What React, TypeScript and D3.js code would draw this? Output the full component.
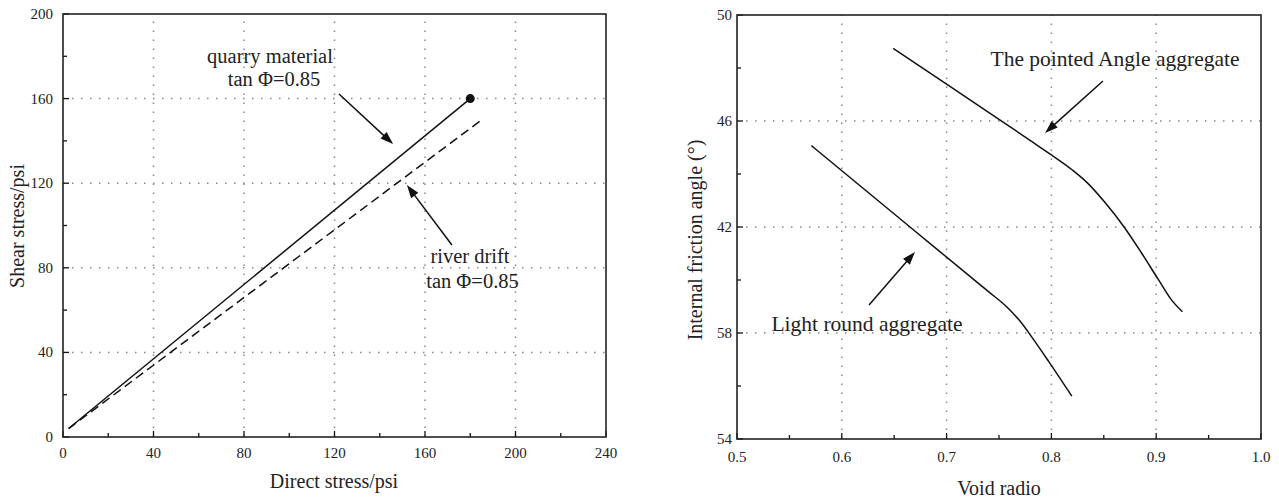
import React from "react";
import * as d3 from "d3";

// ---------- Left chart data ----------
const leftXTicks = [0, 40, 80, 120, 160, 200, 240];
const leftXMinor = [20, 60, 100, 140, 180, 220];
const leftYTicks = [0, 40, 80, 120, 160, 200];
const leftYMinor = [20, 60, 100, 140, 180];
const quarryLine = [
  { x: 2.5, y: 4 },
  { x: 180, y: 160 },
];
const riverLine = [
  { x: 2.5, y: 4 },
  { x: 185.6, y: 150.4 },
];
const leftArrows = [
  { x1: 122.0, y1: 162.2, x2: 145.9, y2: 138.5 },
  { x1: 171.9, y1: 90.8, x2: 152.0, y2: 119.1 },
];
const leftTexts = [
  { x: 91.5, y: 176.8, t: "quarry material" },
  { x: 93.3, y: 166.0, t: "tan Φ=0.85" },
  { x: 179.9, y: 82.3, t: "river drift" },
  { x: 181.0, y: 70.4, t: "tan Φ=0.85" },
];

// ---------- Right chart data ----------
const rightXTicks = [0.5, 0.6, 0.7, 0.8, 0.9, 1.0];
const rightXLabels = ["0.5", "0.6", "0.7", "0.8", "0.9", "1.0"];
const rightXMinor = [0.55, 0.65, 0.75, 0.85, 0.95];
const rightYTicks = [34, 38, 42, 46, 50];
const rightYLabels = ["54", "58", "42", "46", "50"];
const rightYMinor = [36, 40, 44, 48];
const pointedX = [0.649, 0.7, 0.75, 0.78, 0.8, 0.82, 0.836, 0.851, 0.869, 0.886, 0.902, 0.914, 0.925];
const pointedY = [48.74, 47.39, 46.06, 45.26, 44.72, 44.15, 43.6, 42.93, 42.02, 41.02, 40.02, 39.28, 38.8];
const roundX = [0.571, 0.62, 0.67, 0.72, 0.74, 0.757, 0.77, 0.783, 0.797, 0.8195];
const roundY = [45.07, 43.47, 41.84, 40.21, 39.56, 39.0, 38.45, 37.75, 36.95, 35.62];
const rightArrows = [
  { x1: 0.8492, y1: 47.51, x2: 0.7939, y2: 45.55 },
  { x1: 0.626, y1: 39.06, x2: 0.6698, y2: 41.06 },
];
const rightTexts = [
  { x: 0.8607, y: 48.08, t: "The pointed Angle aggregate" },
  { x: 0.624, y: 38.08, t: "Light round aggregate" },
];

const FONT = "'Liberation Serif', 'Times New Roman', serif";

function Arrow({ x1, y1, x2, y2 }: { x1: number; y1: number; x2: number; y2: number }) {
  const dx = x2 - x1;
  const dy = y2 - y1;
  const len = Math.sqrt(dx * dx + dy * dy);
  const ux = dx / len;
  const uy = dy / len;
  const hl = 13;
  const hw = 4.5;
  const bx = x2 - ux * hl;
  const by = y2 - uy * hl;
  const px = -uy;
  const py = ux;
  return (
    <g>
      <line x1={x1} y1={y1} x2={bx + ux * 2} y2={by + uy * 2} stroke="#111" strokeWidth={1.5} />
      <polygon
        points={`${x2},${y2} ${bx + px * hw},${by + py * hw} ${bx - px * hw},${by - py * hw}`}
        fill="#111"
      />
    </g>
  );
}

function Frame({
  x,
  y,
  xTicks,
  xLabels,
  xMinor,
  yTicks,
  yLabels,
  yMinor,
  yLabelGap,
  xLabelBase,
}: any) {
  const [x0, x1] = x.range();
  const [y0, y1] = y.range();
  const xd = x.domain();
  const yd = y.domain();
  return (
    <g>
      {xTicks
        .filter((t: number) => t > xd[0] && t < xd[1])
        .map((t: number, i: number) => (
          <line key={"gx" + i} x1={x(t)} x2={x(t)} y1={y0} y2={y1} stroke="#888" strokeWidth={1.5} strokeDasharray="1.5,7.5" />
        ))}
      {yTicks
        .filter((t: number) => t > yd[0] && t < yd[1])
        .map((t: number, i: number) => (
          <line key={"gy" + i} y1={y(t)} y2={y(t)} x1={x0} x2={x1} stroke="#888" strokeWidth={1.5} strokeDasharray="1.5,7.5" />
        ))}
      {xTicks.map((t: number, i: number) => (
        <line key={"tx" + i} x1={x(t)} x2={x(t)} y1={y0} y2={y0 - 6} stroke="#111" strokeWidth={1.3} />
      ))}
      {xMinor.map((t: number, i: number) => (
        <line key={"mx" + i} x1={x(t)} x2={x(t)} y1={y0} y2={y0 - 4} stroke="#111" strokeWidth={1.3} />
      ))}
      {yTicks.map((t: number, i: number) => (
        <line key={"ty" + i} y1={y(t)} y2={y(t)} x1={x0} x2={x0 + 6} stroke="#111" strokeWidth={1.3} />
      ))}
      {yMinor.map((t: number, i: number) => (
        <line key={"my" + i} y1={y(t)} y2={y(t)} x1={x0} x2={x0 + 4} stroke="#111" strokeWidth={1.3} />
      ))}
      <rect x={x0} y={y1} width={x1 - x0} height={y0 - y1} fill="none" stroke="#222" strokeWidth={1.6} />
      {xTicks.map((t: number, i: number) => (
        <text key={"lx" + i} x={x(t)} y={xLabelBase} textAnchor="middle" fontSize={15} fontFamily={FONT} fill="#222">
          {xLabels[i]}
        </text>
      ))}
      {yTicks.map((t: number, i: number) => (
        <text key={"ly" + i} x={x0 - yLabelGap} y={y(t) + 5} textAnchor="end" fontSize={15} fontFamily={FONT} fill="#222">
          {yLabels[i]}
        </text>
      ))}
    </g>
  );
}

export default function App() {
  const lx = d3.scaleLinear().domain([0, 240]).range([63, 606]);
  const ly = d3.scaleLinear().domain([0, 200]).range([437, 14]);
  const lline = d3
    .line<{ x: number; y: number }>()
    .x((d) => lx(d.x))
    .y((d) => ly(d.y));

  const rx = d3.scaleLinear().domain([0.5, 1.0]).range([737, 1261]);
  const ry = d3.scaleLinear().domain([34, 50]).range([439, 15]);
  const pointedPts: [number, number][] = pointedX.map((v, i) => [rx(v), ry(pointedY[i])]);
  const roundPts: [number, number][] = roundX.map((v, i) => [rx(v), ry(roundY[i])]);
  const line2 = d3.line().curve(d3.curveMonotoneX);

  const last = quarryLine[quarryLine.length - 1];

  return (
    <svg
      width={1279}
      height={500}
      style={{ position: "absolute", left: 0, top: 0, background: "#fff" }}
    >
      <rect x={0} y={0} width={1279} height={500} fill="#fff" />

      <Frame
        x={lx}
        y={ly}
        xTicks={leftXTicks}
        xLabels={leftXTicks.map(String)}
        xMinor={leftXMinor}
        yTicks={leftYTicks}
        yLabels={leftYTicks.map(String)}
        yMinor={leftYMinor}
        yLabelGap={10}
        xLabelBase={458}
      />
      <path d={lline(quarryLine) || ""} fill="none" stroke="#111" strokeWidth={1.5} />
      <path d={lline(riverLine) || ""} fill="none" stroke="#111" strokeWidth={1.5} strokeDasharray="9,5" />
      <circle cx={lx(last.x)} cy={ly(last.y)} r={4.5} fill="#111" />
      {leftArrows.map((a, i) => (
        <Arrow key={"la" + i} x1={lx(a.x1)} y1={ly(a.y1)} x2={lx(a.x2)} y2={ly(a.y2)} />
      ))}
      {leftTexts.map((t, i) => (
        <text key={"lt" + i} x={lx(t.x)} y={ly(t.y)} textAnchor="middle" fontSize={20.5} fontFamily={FONT} fill="#222">
          {t.t}
        </text>
      ))}
      <text x={334} y={488} textAnchor="middle" fontSize={20} fontFamily={FONT} fill="#222">
        Direct stress/psi
      </text>
      <text transform={`translate(23.5,226) rotate(-90)`} textAnchor="middle" fontSize={20} fontFamily={FONT} fill="#222">
        Shear stress/psi
      </text>

      <Frame
        x={rx}
        y={ry}
        xTicks={rightXTicks}
        xLabels={rightXLabels}
        xMinor={rightXMinor}
        yTicks={rightYTicks}
        yLabels={rightYLabels}
        yMinor={rightYMinor}
        yLabelGap={5}
        xLabelBase={461.5}
      />
      <path d={line2(pointedPts) || ""} fill="none" stroke="#111" strokeWidth={1.5} />
      <path d={line2(roundPts) || ""} fill="none" stroke="#111" strokeWidth={1.5} />
      {rightArrows.map((a, i) => (
        <Arrow key={"ra" + i} x1={rx(a.x1)} y1={ry(a.y1)} x2={rx(a.x2)} y2={ry(a.y2)} />
      ))}
      {rightTexts.map((t, i) => (
        <text key={"rt" + i} x={rx(t.x)} y={ry(t.y)} textAnchor="middle" fontSize={21.5} fontFamily={FONT} fill="#222">
          {t.t}
        </text>
      ))}
      <text x={999} y={495} textAnchor="middle" fontSize={20} fontFamily={FONT} fill="#222">
        Void radio
      </text>
      <text transform={`translate(702,240) rotate(-90)`} textAnchor="middle" fontSize={20} fontFamily={FONT} fill="#222">
        Internal friction angle (°)
      </text>
    </svg>
  );
}
